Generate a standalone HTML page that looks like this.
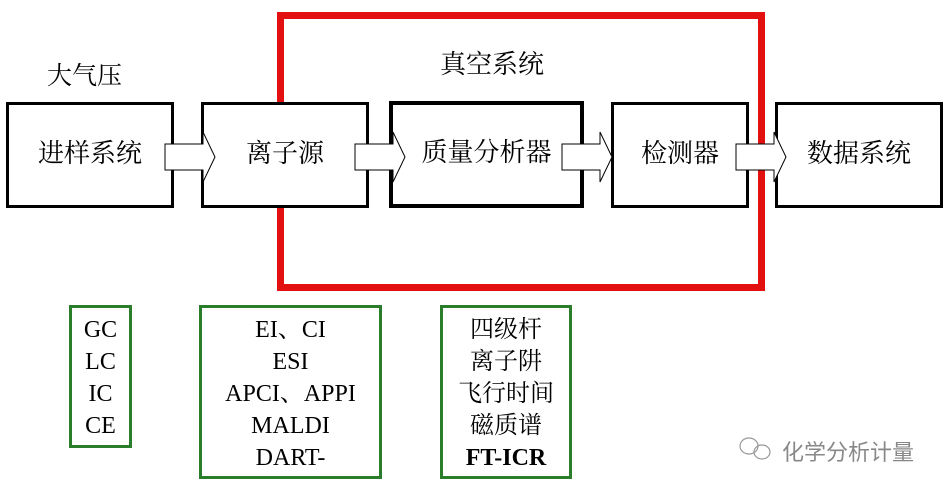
<!DOCTYPE html>
<html><head><meta charset="utf-8"><style>
body{margin:0;width:949px;height:490px;background:#fff;position:relative;overflow:hidden;font-family:"Liberation Serif","Noto Serif CJK SC",serif;}
.a{position:absolute;box-sizing:border-box;}
.b{border:3px solid #000;display:flex;align-items:center;justify-content:center;font-size:26px;background:#fff;padding-bottom:8px}
.g{border:3px solid #2a7d2a;text-align:center;font-size:24px;line-height:32px;padding-top:6px}
</style></head><body>
<div class="a" style="left:277px;top:12px;width:488px;height:279px;border:7px solid #e31010"></div>
<div class="a" style="left:47px;top:56px;font-size:25px">大气压</div>
<div class="a" style="left:440px;top:44px;font-size:26px">真空系统</div>
<div class="a b" style="left:6px;top:102px;width:168px;height:106px">进样系统</div>
<div class="a b" style="left:201px;top:102px;width:168px;height:106px">离子源</div>
<div class="a b" style="left:389px;top:101px;width:195px;height:107px;border-width:4px">质量分析器</div>
<div class="a b" style="left:611px;top:102px;width:138px;height:106px">检测器</div>
<div class="a b" style="left:775px;top:102px;width:168px;height:106px">数据系统</div>
<svg class="a" style="left:0;top:0" width="949" height="490">
<g fill="#fff" stroke="#000" stroke-width="1">
<polygon points="165,144 203,144 203,132 215,157 203,182 203,170 165,170"/>
<polygon points="355,144 393,144 393,132 405,157 393,182 393,170 355,170"/>
<polygon points="562,144 600,144 600,132 612,157 600,182 600,170 562,170"/>
<polygon points="736,144 774,144 774,132 786,157 774,182 774,170 736,170"/>
</g>
<g fill="none" stroke="#999" stroke-width="1.2">
<ellipse cx="749" cy="446" rx="9" ry="8"/>
<ellipse cx="762" cy="452" rx="8" ry="7"/>
</g></svg>
<div class="a g" style="left:69px;top:305px;width:63px;height:143px">GC<br>LC<br>IC<br>CE</div>
<div class="a g" style="left:199px;top:305px;width:183px;height:174px">EI、CI<br>ESI<br>APCI、APPI<br>MALDI<br>DART-</div>
<div class="a g" style="left:440px;top:305px;width:132px;height:174px">四级杆<br>离子阱<br>飞行时间<br>磁质谱<br><b>FT-ICR</b></div>
<div class="a" style="left:782px;top:435px;font-family:'Liberation Sans','Noto Sans CJK SC',sans-serif;font-size:22px;color:#888">化学分析计量</div>
</body></html>
